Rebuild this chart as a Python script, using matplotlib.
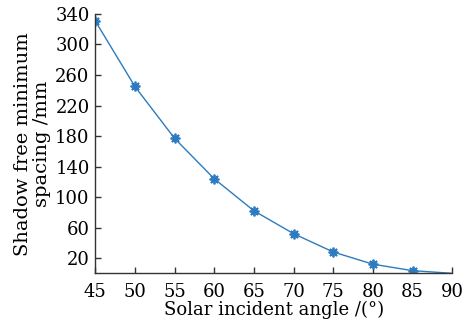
import matplotlib
matplotlib.use("Agg")
import matplotlib.pyplot as plt

angles = [45, 50, 55, 60, 65, 70, 75, 80, 85, 90]
spacing = [331, 245, 177, 124, 82, 52, 28, 12, 3.5, 0]
xticks = [45, 50, 55, 60, 65, 70, 75, 80, 85, 90]
yticks = [20, 60, 100, 140, 180, 220, 260, 300, 340]

plt.rcParams['font.family'] = ['DejaVu Serif']
plt.rcParams['font.size'] = 13

fig = plt.figure(figsize=(4.76, 3.25), dpi=100)
ax = fig.add_axes([0.2, 0.159, 0.75, 0.798])
ax.plot(angles, spacing, color='#2c7bc0', lw=1.0,
        marker=(8, 2, 0), markersize=7, markeredgewidth=1.3,
        markevery=list(range(len(angles) - 1)))
ax.set_xlim(45, 90)
ax.set_ylim(0, 340)
ax.set_xticks(xticks)
ax.set_yticks(yticks)
for s in ['top', 'right']:
    ax.spines[s].set_visible(False)
for s in ['left', 'bottom']:
    ax.spines[s].set_color('#333333')
    ax.spines[s].set_linewidth(1.0)
ax.tick_params(direction='in', length=4, width=1, color='#333333')
ax.tick_params(axis='x', pad=7)
ax.tick_params(axis='y', pad=4)
ax.set_xlabel('Solar incident angle /(°)', labelpad=0)
ax.set_ylabel('Shadow free minimum\nspacing /mm', labelpad=3,
              linespacing=1.1, fontsize=14)
fig.savefig('out.png', dpi=100)
